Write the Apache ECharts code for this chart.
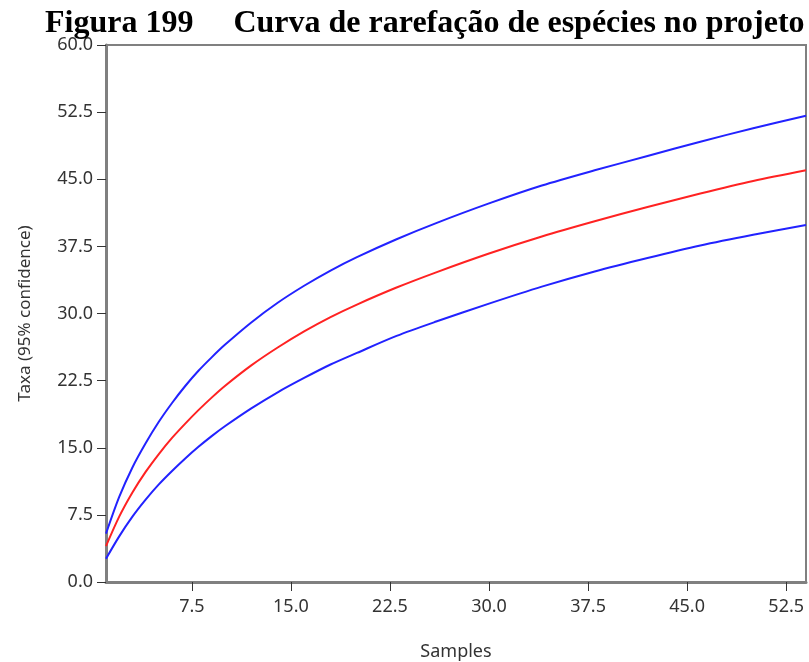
<!DOCTYPE html>
<html>
<head>
<meta charset="utf-8">
<script src="https://cdn.jsdelivr.net/npm/echarts@6/dist/echarts.min.js"></script>
<style>
html, body { margin: 0; padding: 0; background: #fff; }
#main { width: 809px; height: 662px; }
</style>
</head>
<body>
<div id="main"></div>
<script>
// amostras (eixo x)
var samples = [1, 2, 3, 4, 5, 6, 7, 8, 9, 10, 12, 14, 16, 18, 20, 23, 26, 30, 34, 38, 42, 46, 50, 54];
// curva média e limites de 95%
var taxaMedia = [4.0, 7.3, 10.0, 12.3, 14.3, 16.1, 17.7, 19.2, 20.6, 21.9, 24.2, 26.2, 28.0, 29.6, 31.0, 32.9, 34.6, 36.7, 38.6, 40.3, 41.9, 43.4, 44.8, 46.0];
var taxaSuperior = [5.4, 9.5, 12.8, 15.5, 17.9, 20.0, 21.9, 23.6, 25.1, 26.5, 29.0, 31.2, 33.1, 34.8, 36.3, 38.3, 40.1, 42.3, 44.3, 46.0, 47.6, 49.2, 50.7, 52.1];
var taxaInferior = [2.6, 5.1, 7.3, 9.2, 10.9, 12.4, 13.8, 15.1, 16.3, 17.4, 19.4, 21.2, 22.8, 24.3, 25.6, 27.5, 29.1, 31.1, 33.0, 34.7, 36.2, 37.6, 38.8, 39.9];
var xTicks = [7.5, 15.0, 22.5, 30.0, 37.5, 45.0, 52.5];

function pares(ys) {
    var out = [];
    for (var i = 0; i < samples.length; i++) {
        out.push([samples[i], ys[i]]);
    }
    return out;
}

var fonte = 'Noto Sans';
var myChart = echarts.init(document.getElementById('main'));
var option = {
    backgroundColor: '#fff',
    animation: false,
    title: {
        text: 'Figura 199\u00a0\u00a0\u00a0\u00a0\u00a0Curva de rarefação de espécies no projeto',
        left: 40,
        top: 3,
        textStyle: {
            fontFamily: 'Liberation Serif',
            fontWeight: 'bold',
            fontSize: 32,
            color: '#000'
        }
    },
    grid: {
        left: 106,
        right: 3,
        top: 45,
        bottom: 80,
        outerBoundsMode: 'none',
        show: true,
        borderColor: '#808080',
        borderWidth: 2
    },
    xAxis: {
        type: 'value',
        min: 1,
        max: 54,
        name: 'Samples',
        nameLocation: 'middle',
        nameGap: 61,
        nameTextStyle: { fontFamily: fonte, fontSize: 18, color: '#333' },
        axisLine: { lineStyle: { color: '#808080', width: 3 } },
        axisTick: { show: true, length: 9, customValues: xTicks, lineStyle: { color: '#333', width: 1 } },
        axisLabel: {
            customValues: xTicks,
            margin: 16,
            fontFamily: fonte,
            fontSize: 18,
            color: '#333',
            formatter: function (v) { return v.toFixed(1); }
        },
        splitLine: { show: false }
    },
    yAxis: {
        type: 'value',
        min: 0,
        max: 60,
        interval: 7.5,
        name: 'Taxa (95% confidence)',
        nameLocation: 'middle',
        nameGap: 72,
        nameTextStyle: { fontFamily: fonte, fontSize: 17, color: '#333' },
        axisLine: { show: true, lineStyle: { color: '#808080', width: 3 } },
        axisTick: { show: true, length: 9, lineStyle: { color: '#333', width: 1 } },
        axisLabel: {
            margin: 13,
            fontFamily: fonte,
            fontSize: 18,
            color: '#333',
            formatter: function (v) { return v.toFixed(1); }
        },
        splitLine: { show: false }
    },
    series: [
        {
            name: 'Superior',
            type: 'line',
            smooth: 0.3,
            symbol: 'none',
            lineStyle: { color: '#2222ff', width: 2 },
            data: pares(taxaSuperior)
        },
        {
            name: 'Média',
            type: 'line',
            smooth: 0.3,
            symbol: 'none',
            lineStyle: { color: '#ff2222', width: 2 },
            data: pares(taxaMedia)
        },
        {
            name: 'Inferior',
            type: 'line',
            smooth: 0.3,
            symbol: 'none',
            lineStyle: { color: '#2222ff', width: 2 },
            data: pares(taxaInferior)
        }
    ]
};
myChart.setOption(option);
window.onresize = myChart.resize;
</script>
</body>
</html>
